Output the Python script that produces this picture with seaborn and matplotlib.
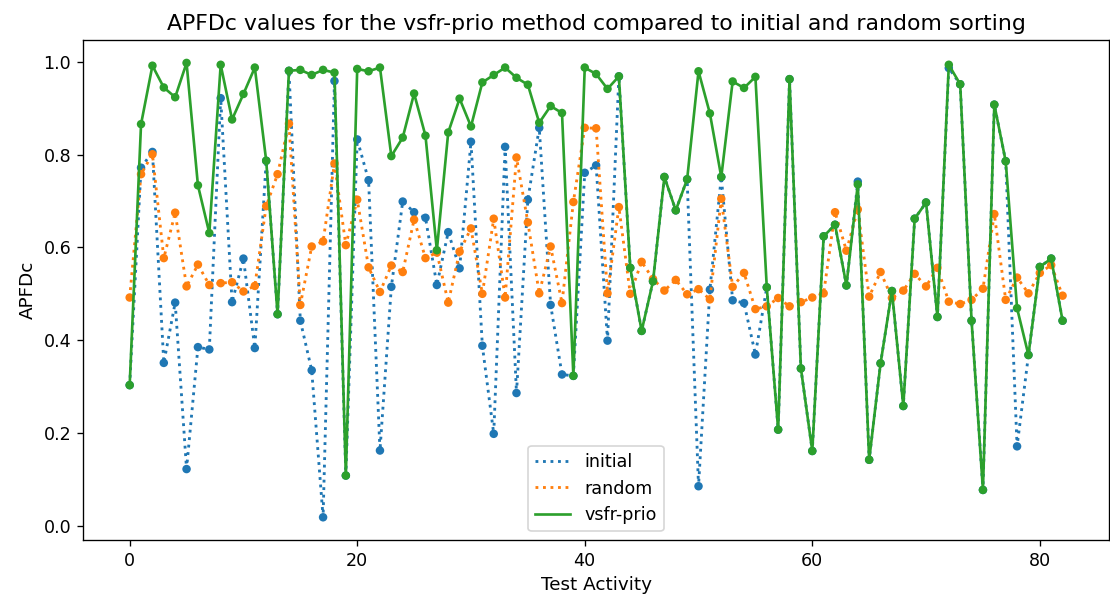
import matplotlib
matplotlib.use("Agg")
import matplotlib.pyplot as plt
import seaborn as sns
import pandas as pd

activity = list(range(83))

initial = [0.303, 0.772, 0.806, 0.351, 0.481, 0.122, 0.385, 0.380, 0.922, 0.482,
           0.576, 0.383, 0.787, 0.456, 0.981, 0.442, 0.335, 0.018, 0.959, 0.108,
           0.833, 0.745, 0.162, 0.515, 0.699, 0.676, 0.664, 0.519, 0.633, 0.555,
           0.828, 0.388, 0.198, 0.817, 0.286, 0.703, 0.858, 0.476, 0.326, 0.323,
           0.761, 0.777, 0.399, 0.969, 0.556, 0.420, 0.527, 0.752, 0.680, 0.747,
           0.085, 0.509, 0.752, 0.486, 0.480, 0.369, 0.514, 0.207, 0.963, 0.339,
           0.161, 0.624, 0.649, 0.518, 0.742, 0.142, 0.350, 0.506, 0.258, 0.662,
           0.697, 0.450, 0.987, 0.952, 0.442, 0.077, 0.908, 0.786, 0.171, 0.368,
           0.558, 0.576, 0.442]

random_sort = [0.492, 0.758, 0.801, 0.577, 0.675, 0.516, 0.563, 0.519, 0.523, 0.525,
               0.505, 0.517, 0.689, 0.758, 0.867, 0.476, 0.602, 0.613, 0.781, 0.605,
               0.703, 0.557, 0.504, 0.561, 0.547, 0.660, 0.577, 0.589, 0.481, 0.591,
               0.641, 0.500, 0.662, 0.492, 0.794, 0.654, 0.501, 0.602, 0.480, 0.698,
               0.858, 0.857, 0.501, 0.687, 0.500, 0.569, 0.532, 0.507, 0.530, 0.499,
               0.510, 0.488, 0.705, 0.515, 0.545, 0.467, 0.473, 0.491, 0.473, 0.482,
               0.492, 0.501, 0.676, 0.593, 0.682, 0.494, 0.547, 0.491, 0.507, 0.543,
               0.516, 0.556, 0.483, 0.478, 0.487, 0.511, 0.672, 0.487, 0.535, 0.501,
               0.545, 0.562, 0.496]

vsfr_prio = [0.303, 0.866, 0.992, 0.945, 0.924, 0.998, 0.734, 0.631, 0.994, 0.876,
             0.931, 0.988, 0.787, 0.456, 0.981, 0.983, 0.972, 0.983, 0.977, 0.108,
             0.985, 0.980, 0.988, 0.797, 0.837, 0.932, 0.841, 0.594, 0.848, 0.921,
             0.861, 0.956, 0.972, 0.988, 0.966, 0.951, 0.869, 0.905, 0.890, 0.323,
             0.988, 0.974, 0.942, 0.969, 0.556, 0.420, 0.527, 0.752, 0.680, 0.747,
             0.980, 0.889, 0.752, 0.958, 0.944, 0.968, 0.514, 0.207, 0.963, 0.339,
             0.161, 0.624, 0.649, 0.518, 0.736, 0.142, 0.350, 0.506, 0.258, 0.662,
             0.697, 0.450, 0.994, 0.952, 0.442, 0.077, 0.908, 0.786, 0.469, 0.368,
             0.558, 0.576, 0.442]

series_names = ["initial", "random", "vsfr-prio"]
series_values = [initial, random_sort, vsfr_prio]
series_styles = [":", ":", "-"]
series_colors = ["#1f77b4", "#ff7f0e", "#2ca02c"]

plt.rcParams['font.family'] = ['DejaVu Sans']
plt.rcParams['xtick.direction'] = 'out'
plt.rcParams['ytick.direction'] = 'out'
plt.rcParams['xtick.labelsize'] = 10.5
plt.rcParams['ytick.labelsize'] = 10.5

fig = plt.figure(figsize=(9.25, 5), dpi=120)
ax = fig.add_axes([0.0748, 0.1, 0.9245, 0.833])

z = 2.0
for name, vals, ls, col in zip(series_names, series_values, series_styles, series_colors):
    df = pd.DataFrame({"Test Activity": activity, "APFDc": vals})
    lw = 1.6 if ls == "-" else 1.7
    sns.lineplot(data=df, x="Test Activity", y="APFDc", ax=ax, color=col,
                 linestyle=ls, linewidth=lw, label=name, zorder=z)
    sns.scatterplot(data=df, x="Test Activity", y="APFDc", ax=ax, color=col,
                    s=26, edgecolor="none", legend=False, zorder=z + 0.1)
    z += 0.2

ax.set_xticks([0, 20, 40, 60, 80])
ax.set_yticks([0.0, 0.2, 0.4, 0.6, 0.8, 1.0])
ax.set_yticklabels(["0.0", "0.2", "0.4", "0.6", "0.8", "1.0"])
ax.set_xlabel("Test Activity", fontsize=11)
ax.set_ylabel("APFDc", fontsize=11)
ax.set_title("APFDc values for the vsfr-prio method compared to initial and random sorting",
             fontsize=13.2)
for sp in ax.spines.values():
    sp.set_visible(True)
    sp.set_color("black")
ax.legend(loc="lower center", fontsize=10.5)

fig.savefig("out.png", dpi=120)
